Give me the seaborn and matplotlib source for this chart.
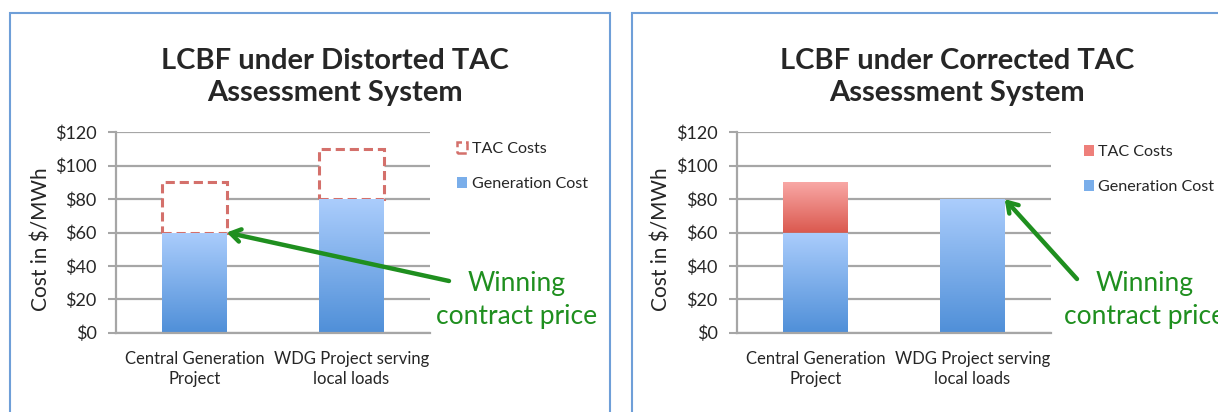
import numpy as np
import seaborn as sns
import matplotlib.pyplot as plt
from matplotlib.patches import Patch, Rectangle
from matplotlib.colors import LinearSegmentedColormap

# data
projects = ["Central Generation\nProject", "WDG Project serving\nlocal loads"]
generation_cost = [60, 80]
tac_distorted = [30, 30]
tac_corrected = [30, 0]
y_ticks = [0, 20, 40, 60, 80, 100, 120]
y_labels = ["$0", "$20", "$40", "$60", "$80", "$100", "$120"]
titles = ["LCBF under Distorted TAC\nAssessment System",
          "LCBF under Corrected TAC\nAssessment System"]

BLUE_TOP, BLUE_BOT = "#abcdfc", "#4f8fd8"
RED_TOP, RED_BOT = "#f9a9a7", "#db5a50"
DASH_RED = "#d4706b"
GRID = "#a6a6a6"
GREEN = "#1f8f1f"
FRAME = "#6f9fd8"

sns.set_style("white")
plt.rcParams["font.family"] = ["Lato", "DejaVu Sans"]

W, H = 1218, 412
fig = plt.figure(figsize=(W / 100, H / 100), dpi=100)


def px(x, y):
    return x / W, 1 - y / H


def shade(ax, bars, top, bottom):
    cmap = LinearSegmentedColormap.from_list("grad", [bottom, top])
    grad = np.linspace(0, 1, 256).reshape(-1, 1)
    for b in bars:
        h = b.get_height()
        if h <= 0:
            continue
        x, y, w = b.get_x(), b.get_y(), b.get_width()
        im = ax.imshow(grad, cmap=cmap, extent=[x, x + w, y, y + h], origin="lower",
                       aspect="auto", zorder=b.get_zorder() + 0.1, interpolation="bilinear")
        im.set_clip_path(b)


def panel(left_px, tac, dashed, title_x, legend_x, legend_y, text_x, arrow_from, arrow_to_idx):
    x0, _ = px(left_px, 0)
    ax = fig.add_axes([x0, 1 - 332.7 / H, 314 / W, (332.7 - 132.3) / H])

    sns.barplot(x=projects, y=generation_cost, color=BLUE_BOT, width=0.41,
                errorbar=None, ax=ax, zorder=2, linewidth=0)
    gen_bars = list(ax.patches)
    if dashed:
        sns.barplot(x=projects, y=tac, bottom=generation_cost, color="white", width=0.41,
                    errorbar=None, ax=ax, zorder=2, edgecolor=DASH_RED, linewidth=2.2,
                    linestyle=(0, (3, 1.6)))
    else:
        sns.barplot(x=projects, y=tac, bottom=generation_cost, color=RED_BOT, width=0.41,
                    errorbar=None, ax=ax, zorder=2, linewidth=0)
    tac_bars = list(ax.patches)[len(gen_bars):]
    shade(ax, gen_bars, BLUE_TOP, BLUE_BOT)
    if not dashed:
        shade(ax, tac_bars, RED_TOP, RED_BOT)

    ax.set_xlim(-0.5, 1.5)
    ax.set_ylim(0, 120)
    ax.set_yticks(y_ticks, y_labels, fontsize=13)
    ax.set_xticks([0, 1], projects, fontsize=12)
    ax.set_xticks([-0.5, 0.5, 1.5], minor=True)
    ax.tick_params(axis="x", which="major", length=0, pad=13)
    ax.tick_params(axis="x", which="minor", length=6, width=1.5, color=GRID, direction="out")
    ax.tick_params(axis="y", length=6, width=1.5, color=GRID, direction="out", pad=8, left=True)
    for lab in ax.get_xticklabels():
        lab.set_linespacing(1.35)
    ax.yaxis.grid(True, color=GRID, lw=1.6)
    ax.set_axisbelow(True)
    for s in ["top", "right"]:
        ax.spines[s].set_visible(False)
    for s in ["left", "bottom"]:
        ax.spines[s].set_color(GRID)
        ax.spines[s].set_linewidth(1.6)
    ax.set_xlabel("")
    ax.set_ylabel("")

    tx, ty = px(title_x, 77)
    fig.text(tx, ty, titles[0 if dashed else 1], fontsize=21, fontweight="bold",
             ha="center", va="center", linespacing=1.3)
    fig.text(*px(left_px - 75, 239), "Cost in $/MWh", rotation=90, fontsize=15,
             ha="center", va="center")

    if dashed:
        tac_handle = Patch(facecolor="white", edgecolor=DASH_RED, linewidth=1.8, linestyle="--")
    else:
        tac_handle = Patch(facecolor="#ee7f7a", linewidth=0)
    gen_handle = Patch(facecolor="#7aaeea", linewidth=0)
    lx, ly = px(legend_x, legend_y)
    ax.legend([tac_handle, gen_handle], ["TAC Costs", "Generation Cost"], loc="upper left",
              bbox_to_anchor=(lx, ly), bbox_transform=fig.transFigure, frameon=False,
              fontsize=11.6, handlelength=0.65, handleheight=0.65, handletextpad=0.25,
              labelspacing=1.3, borderpad=0, borderaxespad=0)

    bar = gen_bars[arrow_to_idx]
    tip = (bar.get_x() + bar.get_width(), bar.get_height())
    ax.annotate("", xy=tip, xycoords="data", xytext=px(*arrow_from),
                textcoords="figure fraction",
                arrowprops=dict(arrowstyle="->,head_length=0.7,head_width=0.45",
                                color=GREEN, lw=3.2, shrinkA=0, shrinkB=0))
    fig.text(*px(text_x, 300), "Winning\ncontract price", color=GREEN, fontsize=19,
             ha="center", va="center", linespacing=1.4)
    return ax


panel(116, tac_distorted, True, 335, 457, 142, 517, (449, 281), 0)
panel(737, tac_corrected, False, 957, 1084, 145, 1145, (1077, 279), 1)

# panel frames
fig.patches.append(Rectangle(px(10, 420), 600 / W, 407 / H, transform=fig.transFigure,
                             fill=False, edgecolor=FRAME, lw=1.5))
fig.patches.append(Rectangle(px(632, 420), 600 / W, 407 / H, transform=fig.transFigure,
                             fill=False, edgecolor=FRAME, lw=1.5))

fig.savefig("out.png", dpi=100)
